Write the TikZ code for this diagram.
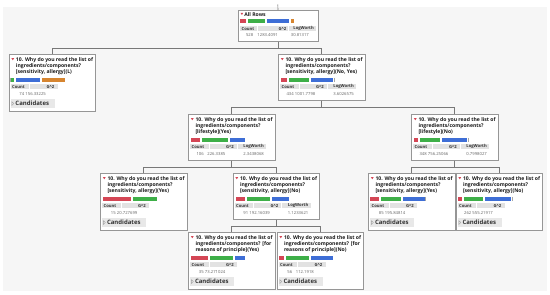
\documentclass[tikz,border=0pt]{standalone}
\usepackage{fontspec}
\setmainfont{Open Sans}
\usetikzlibrary{calc}
\definecolor{cred}{RGB}{212,70,85}
\definecolor{cgreen}{RGB}{62,175,72}
\definecolor{cblue}{RGB}{62,110,214}
\definecolor{corange}{RGB}{214,133,48}
\definecolor{panelbg}{RGB}{246,246,246}
\definecolor{boxline}{RGB}{150,150,150}
\definecolor{connline}{RGB}{120,120,120}
\definecolor{hdrbg}{RGB}{226,226,226}
\definecolor{btnbg}{RGB}{232,232,232}
\tikzset{
  jbox/.style={draw=boxline, fill=white, line width=0.6pt, inner sep=0pt, anchor=north west},
  ttl/.style={font=\bfseries\fontsize{5.1}{6}\selectfont, anchor=north west, align=left, inner sep=0pt, text=black!90},
  hdr/.style={font=\bfseries\fontsize{4.2}{5}\selectfont, inner sep=0pt, text=black!80},
  val/.style={font=\fontsize{4.2}{5}\selectfont, inner sep=0pt, text=black!60},
  cand/.style={font=\bfseries\fontsize{6}{6}\selectfont, inner sep=0pt, anchor=west, text=black!80},
  conn/.style={draw=connline, line width=0.6pt},
}
\newcommand\jbox[7]{%
  \begin{scope}[shift={(#2,#3)}]
    \node[jbox, minimum width=#4pt, minimum height=#5pt] (#1) at (0,0) {};
    \fill[cred] (2.9,4.1) -- (5.7,4.1) -- (4.3,6.3) -- cycle;
    \node[ttl] at (7.3,3.1) {#6};
    #7
  \end{scope}}
\newcommand\bars[1]{\foreach \a/\b/\c in {#1}{\fill[\c] (\a,23.8) rectangle (\b,28.1);}}
\newcommand\ztick[1]{\draw[black!35, line width=0.5pt] (#1,23.8) -- (#1,28.1);}
\newcommand\hdrtwo{%
  \fill[hdrbg] (2,30.3) rectangle (49,35.3);
  \draw[white, line width=0.5pt] (21,30.3) -- (21,35.3);
  \node[hdr, anchor=west] at (3.5,32.8) {Count};
  \node[hdr, anchor=east] at (46,32.8) {G\textasciicircum 2};}
\newcommand\hdrthree{%
  \fill[hdrbg] (2,30.3) rectangle (78,35.3);
  \draw[white, line width=0.5pt] (21,30.3) -- (21,35.3) (49,30.3) -- (49,35.3);
  \node[hdr, anchor=west] at (3.5,32.8) {Count};
  \node[hdr, anchor=east] at (46,32.8) {G\textasciicircum 2};
  \node[hdr, anchor=east] at (76,32.8) {LogWorth};}
\newcommand\valtwo[2]{%
  \node[val, anchor=east] at (16,39.7) {#1};
  \node[val, anchor=east] at (37.5,39.7) {#2};}
\newcommand\valthree[3]{\valtwo{#1}{#2}\node[val, anchor=east] at (76,39.7) {#3};}
\newcommand\cand{%
  \fill[btnbg] (2,45.3) rectangle (46,53.8);
  \draw[black!35, line width=0.4pt] (3.4,47.7) -- (5.4,49.55) -- (3.4,51.4) -- cycle;
  \node[cand] at (6.8,49.6) {Candidates};}
\begin{document}
\begin{tikzpicture}[x=1pt, y=-1pt]
\useasboundingbox (0,0) rectangle (550,295);
\fill[panelbg] (3,7) rectangle (547,291);
% root
\begin{scope}[shift={(238,10)}]
  \node[jbox, minimum width=79.5pt, minimum height=31pt] (root) at (0,0) {};
  \fill[cred] (2.6,2.9) -- (5.2,2.9) -- (3.9,5.0) -- cycle;
  \node[ttl, anchor=west] at (6.2,4.2) {All Rows};
  \foreach \a/\b/\c in {2/7.9/cred, 9.7/27.4/cgreen, 29.2/51.3/cblue, 53/56.3/corange}
    {\fill[\c] (\a,8.8) rectangle (\b,13.1);}
  \fill[hdrbg] (2,16.4) rectangle (77.5,21.4);
  \draw[white, line width=0.5pt] (19,16.4) -- (19,21.4) (50,16.4) -- (50,21.4);
  \node[hdr, anchor=west] at (3.5,18.9) {Count};
  \node[hdr, anchor=east] at (48.5,18.9) {G\textasciicircum 2};
  \node[hdr, anchor=east] at (76,18.9) {LogWorth};
  \node[val, anchor=east] at (15.5,25.4) {528};
  \node[val, anchor=east] at (40,25.4) {1283.4091};
  \node[val, anchor=east] at (71,25.4) {30.81317};
\end{scope}
\coordinate (topin) at (277.75,4.5);
% level 1
\jbox{l1a}{8.5}{54}{86.5}{57}{10. Why do you read the list of\\ingredients/components?\\{}[sensitivity, allergy](L)}%
  {\ztick{1.9}\bars{2.8/5.2/cgreen, 7/31.5/cblue, 33.5/56.5/corange}\hdrtwo\valtwo{74}{156.33225}\cand}
\jbox{l1b}{278}{54}{86.5}{46}{10. Why do you read the list of\\ingredients/components?\\{}[sensitivity, allergy](No, Yes)}%
  {\bars{2.5/8.8/cred, 11/31/cgreen, 33/55/cblue}\ztick{55.9}\hdrthree\valthree{434}{1001.7798}{3.6026575}}
% level 2
\jbox{l2a}{188}{114}{86.5}{46}{10. Why do you read the list of\\ingredients/components?\\{}[lifestyle](Yes)}%
  {\bars{2.5/12/cred, 14/40/cgreen, 42/57/cblue}\hdrthree\valthree{106}{226.3385}{2.3438068}}
\jbox{l2b}{411}{114}{86.5}{46}{10. Why do you read the list of\\ingredients/components?\\{}[lifestyle](No)}%
  {\bars{2.5/7/cred, 9/29/cgreen, 31/56/cblue}\ztick{56.9}\hdrthree\valthree{348}{756.25066}{0.7998027}}
% level 3
\jbox{l3a}{100}{173}{86.5}{57}{10. Why do you read the list of\\ingredients/components?\\{}[sensitivity, allergy](Yes)}%
  {\bars{3/31/cred, 33/57/cgreen}\hdrtwo\valtwo{15}{20.727699}\cand}
\jbox{l3b}{232.5}{173}{86.5}{46}{10. Why do you read the list of\\ingredients/components?\\{}[sensitivity, allergy](No)}%
  {\bars{3/12/cred, 14/37/cgreen, 39/56.5/cblue}\hdrthree\valthree{91}{192.16039}{1.1233621}}
\jbox{l3c}{368}{173}{86.5}{57}{10. Why do you read the list of\\ingredients/components?\\{}[sensitivity, allergy](Yes)}%
  {\bars{2/11/cred, 13/32.5/cgreen, 34.5/56.5/cblue}\ztick{57.3}\hdrtwo\valtwo{85}{195.84814}\cand}
\jbox{l3d}{455.5}{173}{86.5}{57}{10. Why do you read the list of\\ingredients/components?\\{}[sensitivity, allergy](No)}%
  {\bars{2/6.3/cred, 8.4/27.4/cgreen, 29.5/55/cblue}\ztick{56.5}\hdrtwo\valtwo{262}{555.21917}\cand}
% level 4
\jbox{l4a}{188}{232}{86.5}{57}{10. Why do you read the list of\\ingredients/components? [for\\reasons of principle](Yes)}%
  {\bars{2.5/19.5/cred, 21.5/45/cgreen, 47/56.5/cblue}\hdrtwo\valtwo{35}{73.271024}\cand}
\jbox{l4b}{276.5}{232}{86.5}{57}{10. Why do you read the list of\\ingredients/components? [for\\reasons of principle](No)}%
  {\bars{2/7.5/cred, 9.5/32.5/cgreen, 34.5/56.5/cblue}\hdrtwo\valtwo{56}{112.1918}\cand}
% connectors
\draw[conn] (topin) -- (root.north);
\draw[conn] (root.south) -- ++(0,6.5) -| (l1a.north);
\draw[conn] (root.south) -- ++(0,6.5) -| (l1b.north);
\draw[conn] (l1b.south) -- ++(0,7) -| (l2a.north);
\draw[conn] (l1b.south) -- ++(0,7) -| (l2b.north);
\draw[conn] (l2a.south) -- ++(0,6.5) -| (l3a.north);
\draw[conn] (l2a.south) -- ++(0,6.5) -| (l3b.north);
\draw[conn] (l2b.south) -- ++(0,6.5) -| (l3c.north);
\draw[conn] (l2b.south) -- ++(0,6.5) -| (l3d.north);
\draw[conn] (l3b.south) -- ++(0,6.5) -| (l4a.north);
\draw[conn] (l3b.south) -- ++(0,6.5) -| (l4b.north);
\end{tikzpicture}
\end{document}
